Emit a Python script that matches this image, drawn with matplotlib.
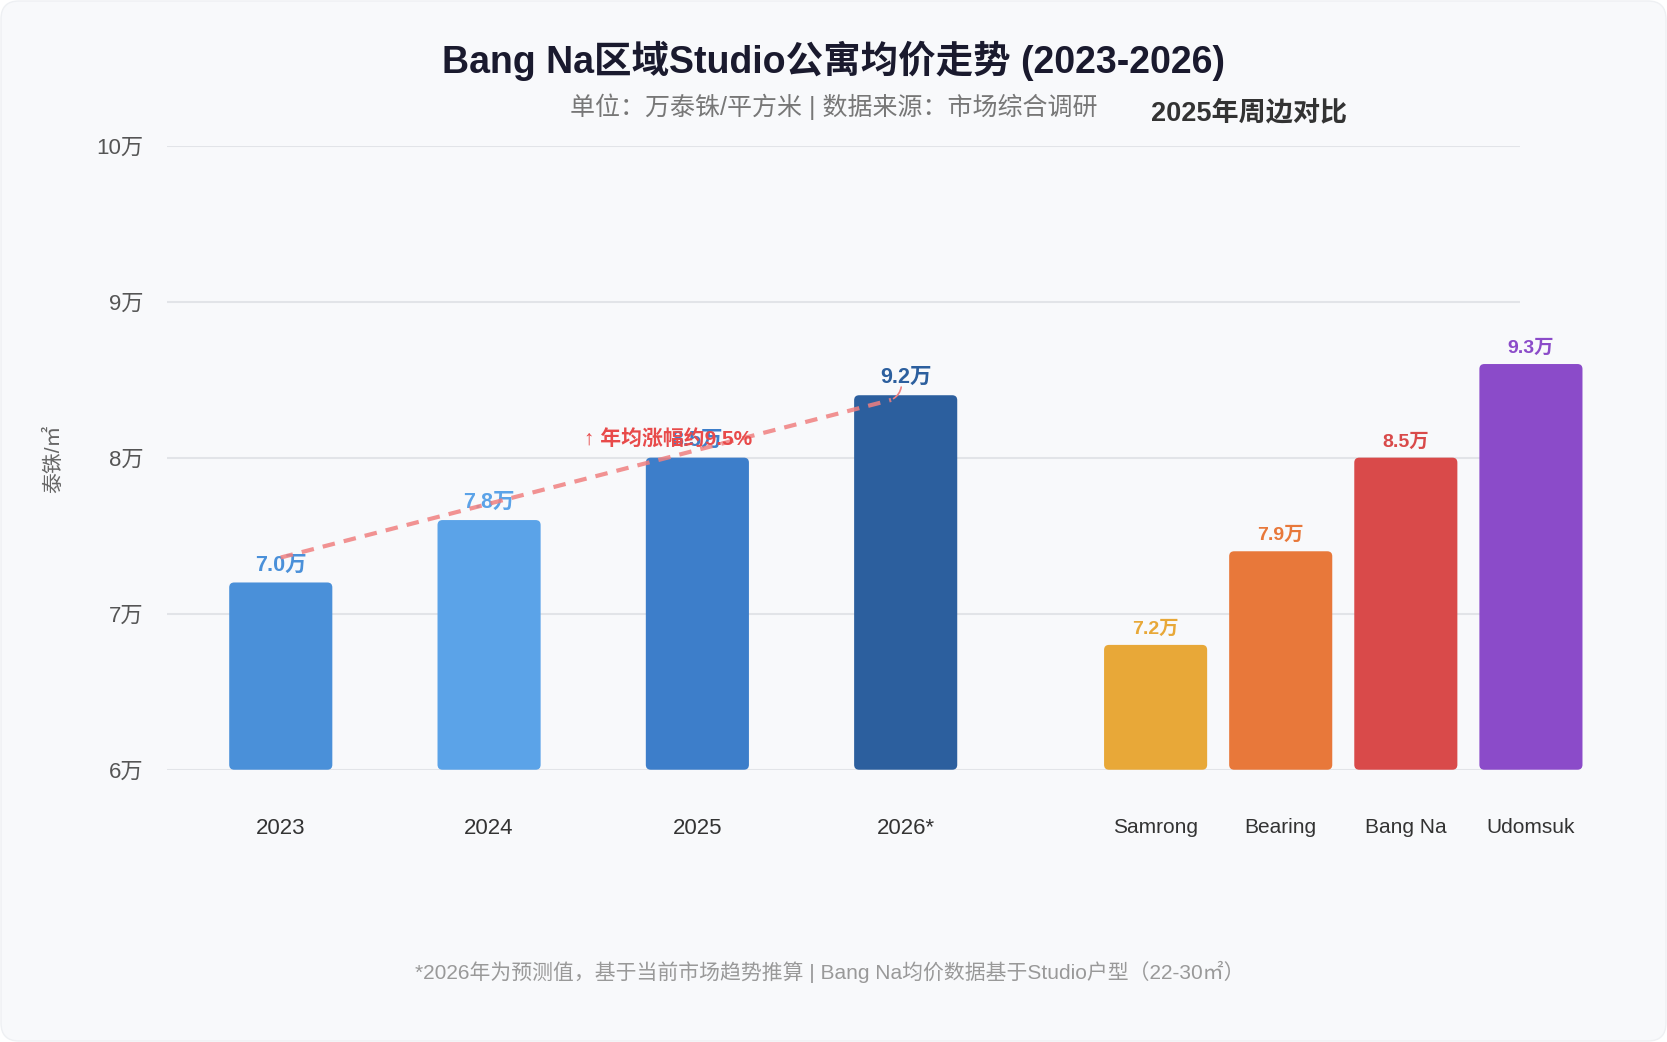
import matplotlib
matplotlib.use("Agg")
import matplotlib.pyplot as plt
from matplotlib.patches import FancyBboxPatch
from matplotlib.transforms import IdentityTransform

plt.rcParams['font.family'] = ['Liberation Sans', 'Noto Sans CJK SC', 'DejaVu Sans']

# ---- data ----
years = ['2023', '2024', '2025', '2026*']
trend_heights = [7.2, 7.6, 8.0, 8.4]
trend_labels = ['7.0万', '7.8万', '8.5万', '9.2万']
trend_colors = ['#4a90d9', '#5ba3e8', '#3d7eca', '#2c5f9e']

areas = ['Samrong', 'Bearing', 'Bang Na', 'Udomsuk']
area_heights = [6.8, 7.4, 8.0, 8.6]
area_labels = ['7.2万', '7.9万', '8.5万', '9.3万']
area_colors = ['#e8a838', '#e8783a', '#d94a4a', '#8b4bc9']

yticks = [6, 7, 8, 9, 10]
ytick_labels = ['6万', '7万', '8万', '9万', '10万']

W, H = 1667, 1042
fig = plt.figure(figsize=(W / 100, H / 100), dpi=100, facecolor='white')

bg = FancyBboxPatch((1, 1), W - 2, H - 2, boxstyle='round,pad=0,rounding_size=18',
                    transform=IdentityTransform(), facecolor='#f8f9fb', edgecolor='#eef0f3',
                    linewidth=1, zorder=-10)
fig.patches.append(bg)


def round_bars(axis, bars, radius_px):
    fig.canvas.draw()
    bb = axis.get_window_extent()
    x0, x1 = axis.get_xlim()
    y0, y1 = axis.get_ylim()
    px_x = bb.width / (x1 - x0)
    px_y = bb.height / (y1 - y0)
    r = radius_px / px_x
    for p in bars:
        fp = FancyBboxPatch((p.get_x(), p.get_y()), p.get_width(), p.get_height(),
                            boxstyle=f'round,pad=0,rounding_size={r}', mutation_aspect=px_x / px_y,
                            facecolor=p.get_facecolor(), edgecolor='none', zorder=p.get_zorder())
        axis.add_patch(fp)
        p.set_visible(False)


# main axes
ax = fig.add_axes([0.1002, 0.2613, 0.8116, 0.599], zorder=1)
ax.set_facecolor('none')
xs = list(range(len(years)))
bars1 = ax.bar(xs, [h - 6 for h in trend_heights], bottom=6, width=0.495, color=trend_colors, zorder=3)
ax.set_xlim(-0.546, 5.949)
ax.set_ylim(6, 10)
ax.set_yticks(yticks)
ax.set_yticklabels(ytick_labels, fontsize=16, color='#555555')
ax.set_xticks(xs)
ax.set_xticklabels(years, fontsize=16, color='#333333')
ax.tick_params(axis='both', length=0)
ax.tick_params(axis='x', pad=35)
ax.tick_params(axis='y', pad=17)
for s in ax.spines.values():
    s.set_visible(False)
ax.grid(axis='y', color='#e2e4e8', linewidth=1.5, zorder=0)
ax.set_axisbelow(True)

for x, h, lab, c in zip(xs, trend_heights, trend_labels, trend_colors):
    ax.annotate(lab, (x, h), xytext=(0, 5), textcoords='offset points', ha='center', va='bottom',
                fontsize=15.5, fontweight='bold', color=c, zorder=5)

# trend line
x0, y0 = xs[0], trend_heights[0] + 0.16
x1, y1 = xs[-1] - 0.07, trend_heights[-1] - 0.03
ax.plot([x0, x1], [y0, y1], linestyle=(0, (3, 2.2)), color='#f08080', linewidth=3, alpha=0.85, zorder=6)
ax.annotate('', xy=(xs[-1] - 0.02, trend_heights[-1] + 0.07), xytext=(x1, y1),
            arrowprops=dict(arrowstyle='-', color='#f08080', lw=1.2,
                            connectionstyle='arc3,rad=0.3'), zorder=6)
ax.text(xs[2] - 0.14, trend_heights[2] + 0.12, '↑ 年均涨幅约9.5%', ha='center', va='center',
        fontsize=15, fontweight='bold', color='#e84a4a', zorder=7)

fig.text(0.0319, 0.5594, '泰铢/㎡', rotation=90, ha='center', va='center', fontsize=15, color='#666666')

# comparison axes
ax2 = fig.add_axes([0.6557, 0.2613, 0.3002, 0.599], zorder=2)
ax2.set_facecolor('none')
xs2 = list(range(len(areas)))
bars2 = ax2.bar(xs2, [h - 6 for h in area_heights], bottom=6, width=0.824, color=area_colors, zorder=3)
ax2.set_xlim(-0.5, 3.5)
ax2.set_ylim(6, 10)
ax2.set_yticks([])
ax2.set_xticks(xs2)
ax2.set_xticklabels(areas, fontsize=15, color='#333333')
ax2.tick_params(axis='x', length=0, pad=35)
for s in ax2.spines.values():
    s.set_visible(False)
for x, h, lab, c in zip(xs2, area_heights, area_labels, area_colors):
    ax2.annotate(lab, (x, h), xytext=(0, 5), textcoords='offset points', ha='center', va='bottom',
                 fontsize=14, fontweight='bold', color=c, zorder=5)

round_bars(ax, bars1, 5)
round_bars(ax2, bars2, 5)

fig.text(0.7494, 0.8908, '2025年周边对比', ha='center', va='center', fontsize=19.5,
         fontweight='bold', color='#333333')

fig.text(0.5, 0.9418, 'Bang Na区域Studio公寓均价走势 (2023-2026)', ha='center', va='center',
         fontsize=27, fontweight='bold', color='#1a1a2e')
fig.text(0.5, 0.898, '单位：万泰铢/平方米 | 数据来源：市场综合调研', ha='center', va='center',
         fontsize=18, color='#777777')
fig.text(0.4975, 0.0675, '*2026年为预测值，基于当前市场趋势推算 | Bang Na均价数据基于Studio户型（22-30㎡）',
         ha='center', va='center', fontsize=15, color='#999999')

fig.savefig('out.png', dpi=100, facecolor='white')
